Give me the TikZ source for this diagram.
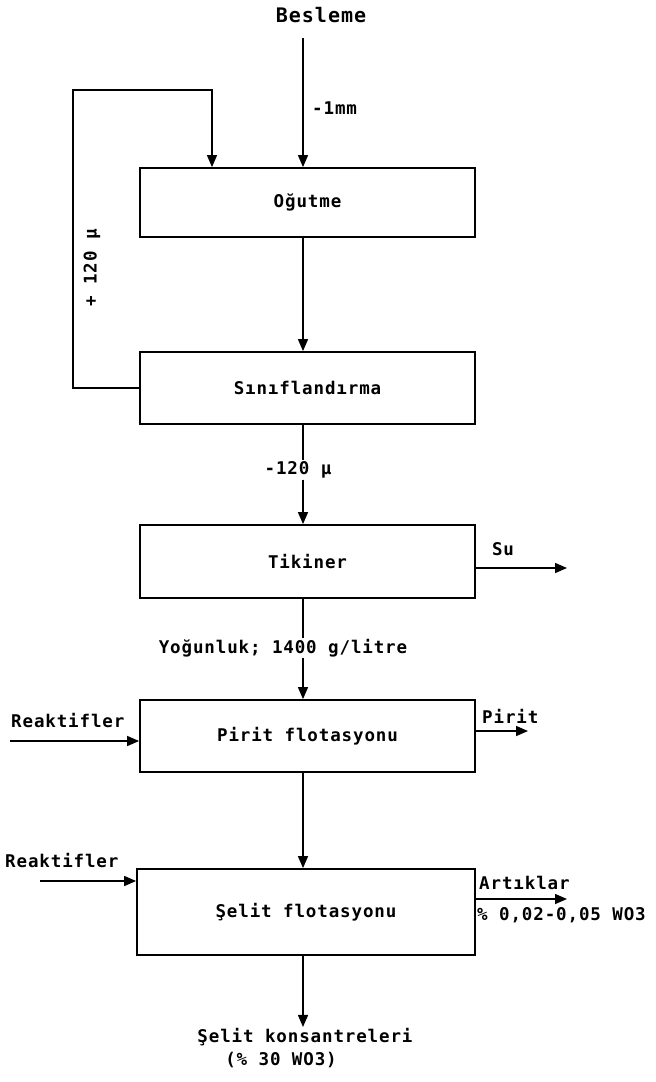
\documentclass[tikz,border=0pt]{standalone}
\usepackage{fontspec}
\newfontfamily\lab[LetterSpace=5]{DejaVu Sans Mono Bold}
\usetikzlibrary{arrows.meta}
\begin{document}
\begin{tikzpicture}[x=1pt,y=-1pt,
  every node/.style={font=\lab\fontsize{17.5}{19}\selectfont, inner sep=1pt},
  procbox/.style={draw, line width=1.8pt, minimum width=335pt, minimum height=70pt},
  ln/.style={line width=1.5pt},
  arr/.style={line width=1.5pt, -{Triangle[length=12pt,width=10pt]}}]
\useasboundingbox (0,0) rectangle (656,1082);
% labels
\node[font=\lab\fontsize{20}{22}\selectfont] (besleme) at (321,15) {Besleme};
\coordinate (feedtop) at (303,38);
\node[anchor=west] (mm) at (311,108) {-1mm};
% boxes
\node[procbox, minimum height=69pt] (og) at (307.5,202.5) {Oğutme};
\node[procbox, minimum height=72pt] (sin) at (307.5,388) {Sınıflandırma};
\node[procbox, minimum height=73pt] (tik) at (307.5,561.5) {Tikiner};
\node[procbox, minimum height=72pt] (pir) at (307.5,736) {Pirit flotasyonu};
\node[procbox, minimum width=338pt, minimum height=86pt] (sel) at (306,912) {Şelit flotasyonu};
% feed
\draw[arr] (feedtop) -- (feedtop |- og.north);
\draw[arr] (og.south -| feedtop) -- (sin.north -| feedtop);
% recycle loop
\coordinate (fbx) at (73,90);
\coordinate (fbtop) at (212,90);
\draw[arr] (sin.west) -| (fbx) -- (fbtop) -- (fbtop |- og.north);
\node[rotate=90] (plus) at (92,268) {+ 120 μ};
% -120
\node (minus) at (298,470) {-120 μ};
\draw[ln] (sin.south -| feedtop) -- (minus.north -| feedtop);
\draw[arr] (minus.south -| feedtop) -- (tik.north -| feedtop);
% Su
\coordinate (suend) at (567,568);
\draw[arr] (tik.east |- suend) -- (suend);
\node (su) at (503,549) {Su};
% density
\node (yog) at (283,648) {Yoğunluk; 1400 g/litre};
\draw[ln] (tik.south -| feedtop) -- (yog.north -| feedtop);
\draw[arr] (yog.south -| feedtop) -- (pir.north -| feedtop);
% reagents 1
\node[anchor=west] (rea1) at (10,721) {Reaktifler};
\coordinate (rea1s) at (10,741);
\draw[arr] (rea1s) -- (rea1s -| pir.west);
% pirit
\node[anchor=west] (pirit) at (481,716) {Pirit};
\coordinate (pirend) at (528,731);
\draw[arr] (pir.east |- pirend) -- (pirend);
\draw[arr] (pir.south -| feedtop) -- (sel.north -| feedtop);
% reagents 2
\node[anchor=west] (rea2) at (4,860) {Reaktifler};
\coordinate (rea2s) at (40,881);
\draw[arr] (rea2s) -- (rea2s -| sel.west);
% tailings
\node[anchor=west] (art) at (478,883) {Artıklar};
\coordinate (artend) at (567,899);
\draw[arr] (sel.east |- artend) -- (artend);
\node[anchor=west] (artp) at (476,915) {\% 0,02-0,05 WO3};
% concentrate
\node (kon) at (305,1037) {Şelit konsantreleri};
\node (konp) at (281,1060) {(\% 30 WO3)};
\draw[arr] (sel.south -| feedtop) -- (kon.north -| feedtop);
\end{tikzpicture}
\end{document}
